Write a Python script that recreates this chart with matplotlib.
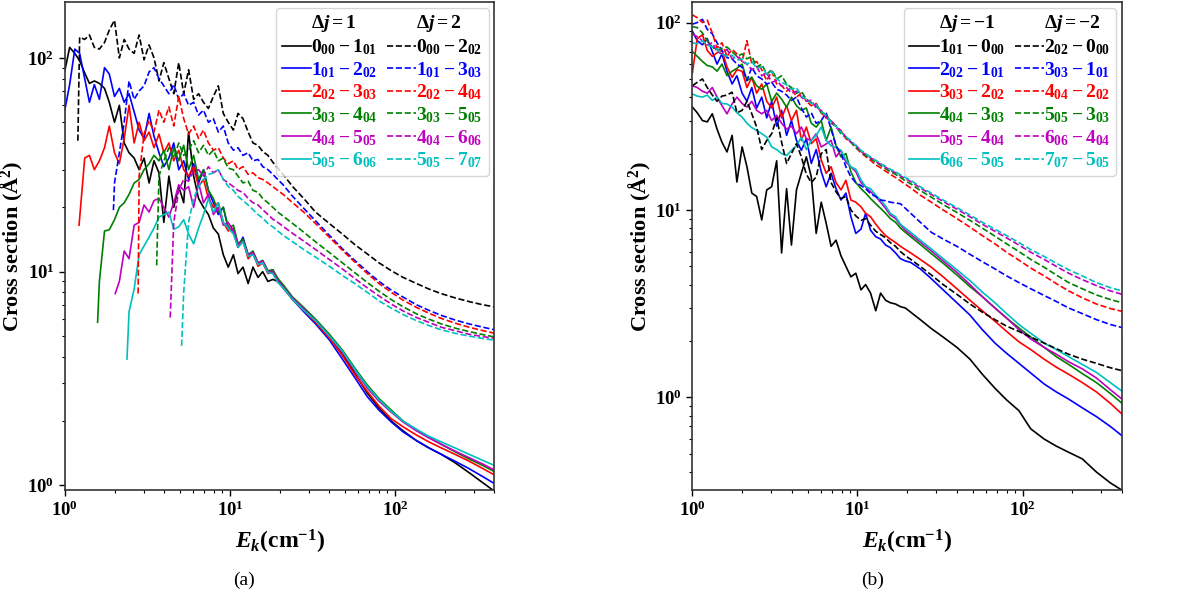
import matplotlib
matplotlib.use("Agg")
import matplotlib.pyplot as plt
from matplotlib.lines import Line2D


# shared collision-energy grid (cm^-1)
E_GRID = [1.00, 1.07, 1.15, 1.23, 1.32, 1.41, 1.51, 1.62, 1.74, 1.86,
          2.00, 2.14, 2.29, 2.45, 2.63, 2.82, 3.02, 3.24, 3.47, 3.72,
          3.98, 4.27, 4.57, 4.90, 5.25, 5.62, 6.03, 6.46, 6.92, 7.41,
          7.94, 8.51, 9.12, 9.77, 10.5, 11.2, 12.0, 12.9, 13.8, 14.8,
          15.8, 17.0, 18.2, 19.5, 21.0, 24.0, 28.0, 33.0, 40.0, 48.0,
          57.0, 68.0, 80.0, 95.0, 112, 135, 160, 190, 230, 280,
          340, 400]

COLORS = ["k", "b", "r", "g", "m", "c"]

# ---- panel (a): excitation ----
A_HEADERS = [r"$\Delta j=1$", r"$\Delta j=2$"]
A_SOLID_LABELS = [r"$0_{00}-1_{01}$", r"$1_{01}-2_{02}$", r"$2_{02}-3_{03}$",
                  r"$3_{03}-4_{04}$", r"$4_{04}-5_{05}$", r"$5_{05}-6_{06}$"]
A_DASHED_LABELS = [r"$0_{00}-2_{02}$", r"$1_{01}-3_{03}$", r"$2_{02}-4_{04}$",
                   r"$3_{03}-5_{05}$", r"$4_{04}-6_{06}$", r"$5_{05}-7_{07}$"]
# threshold points (E, sigma) drawn before the grid values
A_SOLID_ONSET = [None, None, (1.22, 16.5), (1.58, 5.8), (2.02, 7.9), (2.38, 3.9)]
A_DASHED_ONSET = [(1.20, 41), (1.97, 19.4), (2.78, 7.9), (3.60, 10.7), (4.35, 6.1), (5.10, 4.5)]

# values cover the last len(list) points of E_GRID
A_00_01 = [87, 112, 105, 97, 85, 76, 78, 76, 72, 62,
           50, 60, 40, 36, 34, 30, 34, 26, 33, 29,
           17, 28, 20, 25, 21, 45, 28, 22, 20, 18.5,
           16, 15, 12, 10.5, 12, 9.8, 10.5, 8.8, 10.5, 9.4,
           10, 9.0, 9.2, 9.0, 8.4, 7.4, 6.6, 5.9, 5.0, 4.15,
           3.35, 2.7, 2.3, 2.0, 1.8, 1.62, 1.5, 1.4, 1.28, 1.15,
           1.03, 0.94]
A_01_02 = [57, 75, 110, 105, 80, 62, 75, 64, 90, 84,
           66, 72, 62, 68, 56, 46, 42, 55, 43, 36,
           31, 34, 40, 30, 33, 27, 32, 26, 30, 24,
           21, 18.5, 20, 16, 15.5, 13, 14.5, 12, 12.3, 10.8,
           11.2, 10, 10.2, 9.2, 8.6, 7.4, 6.5, 5.7, 4.8, 3.9,
           3.2, 2.6, 2.25, 1.98, 1.78, 1.62, 1.5, 1.4, 1.3, 1.2,
           1.1, 1.02]
A_02_03 = [34, 35, 30, 33, 38, 48,
           36, 32, 42, 60, 40, 50, 41, 45, 38, 44,
           36, 40, 33, 37, 30, 28, 31, 25, 27, 22,
           20, 21, 17, 15.5, 16, 13, 14, 11.5, 12.2, 10.6,
           11, 9.8, 9.9, 9.0, 8.5, 7.4, 6.6, 5.8, 4.9, 4.05,
           3.3, 2.75, 2.35, 2.05, 1.88, 1.72, 1.6, 1.5, 1.4, 1.3,
           1.2, 1.12]
A_03_04 = [9, 15.5, 15.7,
           17.5, 20, 21, 23, 26, 27, 30, 32, 35, 33,
           37, 30, 38, 33, 39, 30, 35, 27, 30, 24,
           22, 19, 20, 16, 16.5, 13.5, 14.2, 12, 12.5, 11,
           11.3, 10.1, 10.2, 9.3, 8.7, 7.6, 6.8, 6.0, 5.1, 4.3,
           3.55, 2.95, 2.55, 2.25, 2.0, 1.82, 1.68, 1.56, 1.44, 1.33,
           1.24, 1.16]
A_04_05 = [9, 12.5, 11.5, 16.5, 17, 20.5, 19, 21.5, 22,
           20, 18, 21, 25.5, 24, 25, 20, 26, 21, 23,
           18.5, 20, 16.5, 17, 15.5, 13.5, 13.8, 12, 12.3, 11,
           11.2, 10, 10, 9.1, 8.5, 7.5, 6.7, 5.9, 5.0, 4.2,
           3.45, 2.85, 2.48, 2.2, 1.98, 1.8, 1.67, 1.56, 1.45, 1.35,
           1.26, 1.18]
A_05_06 = [6.5, 8.3, 12, 13.2, 14.5, 16, 18,
           18.5, 19, 15.8, 16.2, 17.5, 15, 13.5, 16, 18.5, 22,
           19, 21, 17, 16, 15, 13, 13.8, 11.8, 12, 10.8,
           11, 9.9, 9.8, 8.9, 8.4, 7.4, 6.6, 5.9, 5.0, 4.25,
           3.5, 2.9, 2.52, 2.22, 2.0, 1.83, 1.7, 1.6, 1.5, 1.4,
           1.31, 1.24]

A_00_02 = [125, 122, 128, 112, 110, 118, 135,
           150, 100, 122, 110, 105, 128, 98, 115, 100, 78,
           95, 80, 68, 95, 68, 88, 64, 68, 62, 58,
           66, 74, 55, 50, 46, 55, 52, 45, 40, 39,
           36.5, 35, 32.5, 30.5, 28.5, 25, 22, 19, 16.8, 15.0,
           13.4, 12.1, 11.0, 10.1, 9.4, 8.8, 8.3, 7.9, 7.55, 7.25,
           7.0, 6.85]
A_01_03 = [26, 36, 50, 78, 64, 70, 74, 86, 90, 80,
           74, 68, 75, 64, 68, 60, 62, 54, 57, 50,
           52, 45, 48, 40, 37, 38, 35, 36, 33, 33.5,
           31, 30, 28.5, 27, 25.5, 22.5, 19.8, 17.3, 14.8, 12.8,
           11.3, 10.0, 9.0, 8.2, 7.6, 7.0, 6.6, 6.25, 5.95, 5.7,
           5.5, 5.35]
A_02_04 = [28, 44, 51, 45, 57,
           50, 59, 48, 66, 52, 44, 48, 42, 46, 40,
           37, 38, 34, 32, 33, 30, 31, 28.5, 29, 27.5,
           27, 26, 25, 24, 23, 21, 19, 16.8, 14.5, 12.6,
           11.1, 9.8, 8.8, 8.0, 7.35, 6.8, 6.4, 6.05, 5.75, 5.5,
           5.3, 5.15]
A_03_05 = [28,
           33, 38, 34, 40, 35, 37, 41, 36, 39, 35,
           37, 33, 34, 30.5, 30, 28, 26, 26.5, 24, 23.5,
           22, 21, 20, 19, 18.2, 16.8, 15.3, 13.8, 12.3, 11.0,
           9.9, 8.9, 8.1, 7.4, 6.85, 6.35, 6.0, 5.7, 5.45, 5.25,
           5.08, 4.95]
A_04_06 = [17, 24, 27, 26.5, 29.5, 30, 28, 31,
           29, 30, 27, 26, 25, 24, 23.5, 22, 21, 20.5,
           19.5, 18.5, 17.6, 17, 16.3, 15.1, 13.9, 12.7, 11.4, 10.3,
           9.3, 8.4, 7.7, 7.05, 6.55, 6.1, 5.8, 5.5, 5.3, 5.1,
           4.97, 4.88]
A_05_07 = [8, 17, 22, 25, 27, 28.5,
           29, 30, 27, 25, 24, 22.5, 21.5, 20.5, 19.5, 18.5,
           17.8, 16.8, 16.2, 15.5, 14.8, 13.8, 12.7, 11.7, 10.6, 9.6,
           8.8, 8.0, 7.3, 6.75, 6.3, 5.9, 5.6, 5.35, 5.15, 5.0,
           4.87, 4.78]

# ---- panel (b): de-excitation ----
B_HEADERS = [r"$\Delta j=-1$", r"$\Delta j=-2$"]
B_SOLID_LABELS = [r"$1_{01}-0_{00}$", r"$2_{02}-1_{01}$", r"$3_{03}-2_{02}$",
                  r"$4_{04}-3_{03}$", r"$5_{05}-4_{04}$", r"$6_{06}-5_{05}$"]
B_DASHED_LABELS = [r"$2_{02}-0_{00}$", r"$3_{03}-1_{01}$", r"$4_{04}-2_{02}$",
                   r"$5_{05}-3_{03}$", r"$6_{06}-4_{04}$", r"$7_{07}-5_{05}$"]

B_01_00 = [35.4, 33, 30, 29.5, 32.6, 27, 23, 20.4, 25, 14.1,
           21.7, 17, 12.3, 11.8, 8.85, 12.8, 13.3, 18.3, 5.9, 13,
           6.5, 12.8, 15.7, 19.2, 15, 7.5, 11, 8.5, 6.4, 6.9,
           5.7, 5.0, 4.4, 4.6, 3.75, 4.0, 3.6, 2.9, 3.6, 3.3,
           3.2, 3.15, 3.05, 3.0, 2.85, 2.6, 2.33, 2.1, 1.85, 1.6,
           1.33, 1.12, 0.97, 0.85, 0.68, 0.6, 0.55, 0.51, 0.47, 0.4,
           0.35, 0.32]
B_02_01 = [90, 80, 76, 82, 70, 60, 68, 55, 47, 52,
           42, 38, 45, 35, 40, 31, 38, 28, 34, 25,
           30, 23.5, 20.8, 24, 17.7, 21, 16, 13.3, 15.7, 13,
           11.3, 12.3, 9.2, 7.5, 7.9, 9.6, 7.8, 7.2, 7.0, 6.5,
           6.3, 5.9, 5.5, 5.35, 5.25, 4.85, 4.3, 3.75, 3.2, 2.75,
           2.3, 1.95, 1.72, 1.52, 1.35, 1.18, 1.07, 0.98, 0.88, 0.79,
           0.7, 0.625]
B_03_02 = [54, 82, 86, 71, 66, 69, 71, 58, 51, 56,
           55, 45, 51, 42, 47, 38, 35, 40, 31, 36,
           30, 34, 23.5, 27.7, 22.6, 24, 18.5, 15.7, 17, 14,
           12.8, 14.4, 11.3, 11, 10.4, 9.6, 9.2, 8.4, 7.8, 7.3,
           7.0, 6.7, 6.4, 6.15, 5.9, 5.45, 4.95, 4.4, 3.8, 3.3,
           2.9, 2.55, 2.25, 1.98, 1.8, 1.6, 1.45, 1.33, 1.2, 1.07,
           0.93, 0.815]
B_04_03 = [70, 66, 62, 59, 58, 55, 60, 52, 55, 57,
           60, 49, 51, 46, 44, 47, 38, 42, 39, 35.4,
           40, 36, 34, 35, 29, 27.7, 30, 23.5, 27.7, 22,
           19.2, 20, 16, 14, 13, 12.3, 11.5, 10.8, 10.2, 9.6,
           9.0, 8.6, 8.0, 7.6, 7.2, 6.55, 5.85, 5.2, 4.5, 3.9,
           3.45, 3.0, 2.65, 2.35, 2.1, 1.85, 1.65, 1.5, 1.34, 1.2,
           1.05, 0.93]
B_05_04 = [46, 45, 43, 42, 45, 40, 36, 32.6, 36.8, 40,
           37, 35.4, 38, 34, 32.6, 34, 30, 32, 29, 27,
           28, 25.5, 27.7, 24, 23.5, 25.5, 21.7, 22.5, 23.5, 19.2,
           20.8, 18, 17, 16, 14, 13.3, 12.5, 11.8, 11, 10.2,
           9.4, 9.0, 8.3, 7.8, 7.4, 6.75, 6.05, 5.35, 4.65, 4.0,
           3.45, 3.0, 2.65, 2.3, 2.05, 1.85, 1.7, 1.55, 1.42, 1.27,
           1.1, 0.98]
B_06_05 = [41.6, 40.5, 40, 41, 38.4, 40, 37, 36.8, 35.4, 33,
           31.3, 29, 27.5, 26.6, 25.5, 24.5, 21.7, 21, 20, 19.5,
           20.8, 22, 24.5, 21, 23.5, 25, 27.7, 23.5, 22, 21.5,
           20.8, 18.5, 17, 16.5, 14.5, 13.3, 13, 12, 11.3, 10.5,
           9.6, 9.2, 8.4, 8.0, 7.6, 6.9, 6.2, 5.5, 4.8, 4.2,
           3.65, 3.2, 2.8, 2.45, 2.2, 1.95, 1.8, 1.65, 1.5, 1.36,
           1.2, 1.08]

B_02_00 = [46, 48, 50, 45, 41, 38, 40.5, 41, 42.5, 33,
           34, 38, 32.6, 27.7, 21, 23.5, 25.5, 31, 23, 17.7,
           20, 22.6, 19.2, 15.5, 14, 15, 20, 21, 14, 12.5,
           11.5, 11.8, 10, 9.3, 8.8, 9.0, 8.3, 7.7, 7.4, 7.1,
           6.7, 6.4, 6.0, 5.7, 5.45, 5.0, 4.5, 4.0, 3.55, 3.15,
           2.85, 2.6, 2.4, 2.25, 2.1, 1.95, 1.82, 1.7, 1.6, 1.52,
           1.44, 1.39]
B_03_01 = [98, 100, 104, 92, 87, 78, 71, 65, 64, 60,
           57.7, 49, 57.7, 52, 50, 47, 48, 44, 43, 41,
           38.4, 40, 35, 31.3, 33, 29, 30, 33, 27, 22,
           20, 17, 15, 14, 13.5, 13, 12.2, 11.8, 11.3, 11.2,
           11.0, 10.9, 10.8, 10.2, 9.6, 8.6, 7.6, 7.0, 6.4, 5.8,
           5.3, 4.85, 4.45, 4.1, 3.8, 3.5, 3.25, 3.0, 2.8, 2.6,
           2.45, 2.36]
B_04_02 = [110, 106, 100, 103, 88, 73, 78, 66, 72, 68,
           62, 80, 60, 62, 56, 49, 55, 47, 46, 43,
           45, 40, 42, 38, 36, 37, 33, 31, 30, 28,
           26.5, 24, 23, 21.5, 20.2, 19.3, 18.4, 17.4, 16.8, 16.1,
           15.5, 14.9, 14.3, 13.7, 13.1, 12.0, 11.0, 10.0, 9.0, 8.1,
           7.3, 6.6, 5.95, 5.4, 4.9, 4.45, 4.05, 3.7, 3.4, 3.15,
           2.98, 2.88]
B_05_03 = [95, 94, 88, 80, 74, 71, 73, 74, 70, 66,
           68, 64, 66, 58, 60, 53, 56, 50, 52, 47,
           45, 42, 43, 39, 37.5, 36, 33, 32.5, 29, 28,
           25.5, 24.5, 23, 21.5, 20.5, 19.5, 18.8, 18, 17.3, 16.6,
           16, 15.5, 14.9, 14.3, 13.8, 12.7, 11.7, 10.7, 9.7, 8.8,
           8.0, 7.25, 6.6, 6.0, 5.45, 4.95, 4.5, 4.1, 3.8, 3.52,
           3.33, 3.2]
B_06_04 = [87, 84, 80, 76, 78, 70, 68, 72, 64, 66,
           62, 60, 56, 58, 52, 54, 48, 49, 46, 45,
           42, 43, 40, 38, 38.5, 35, 34, 31, 30, 27.5,
           26.5, 24.5, 23, 22.2, 20.5, 19.8, 19, 18.2, 17.5, 16.9,
           16.3, 15.8, 15.2, 14.7, 14.2, 13.1, 12.1, 11.1, 10.1, 9.2,
           8.4, 7.7, 7.1, 6.5, 5.95, 5.45, 5.0, 4.6, 4.25, 3.95,
           3.7, 3.55]
B_07_05 = [78, 77, 80, 76, 74, 72, 68, 66, 67, 63,
           64, 60, 62, 57, 58, 53, 55, 50, 48, 46.5,
           44, 45, 40.5, 39, 37, 36.5, 33.5, 32, 29.5, 28,
           26, 24.5, 23.5, 22, 20.8, 20, 19.2, 18.4, 17.7, 17.1,
           16.5, 16, 15.4, 14.9, 14.4, 13.3, 12.3, 11.3, 10.3, 9.4,
           8.6, 7.9, 7.3, 6.7, 6.15, 5.65, 5.2, 4.8, 4.45, 4.1,
           3.85, 3.7]

LW = 1.2


def main() -> None:
    plt.rcParams.update({
        "font.family": "Liberation Serif",
        "font.weight": "bold",
        "axes.labelweight": "bold",
        "mathtext.fontset": "custom",
        "mathtext.rm": "Liberation Serif:bold",
        "mathtext.it": "Liberation Serif:italic:bold",
        "mathtext.bf": "Liberation Serif:bold",
    })
    fig = plt.figure(figsize=(12, 6), dpi=100)
    ax_a = fig.add_axes([0.054, 0.183, 0.358, 0.814])
    ax_b = fig.add_axes([0.577, 0.183, 0.358, 0.814])

    draw_panel(ax_a,
               [A_00_01, A_01_02, A_02_03, A_03_04, A_04_05, A_05_06],
               [A_00_02, A_01_03, A_02_04, A_03_05, A_04_06, A_05_07],
               A_SOLID_ONSET, A_DASHED_ONSET,
               A_SOLID_LABELS, A_DASHED_LABELS, A_HEADERS, (0.95, 183))
    draw_panel(ax_b,
               [B_01_00, B_02_01, B_03_02, B_04_03, B_05_04, B_06_05],
               [B_02_00, B_03_01, B_04_02, B_05_03, B_06_04, B_07_05],
               [None] * 6, [None] * 6,
               B_SOLID_LABELS, B_DASHED_LABELS, B_HEADERS, (0.32, 129))

    fig.text(0.203, 0.033, "(a)", ha="center", va="center", fontsize=14, fontweight="normal")
    fig.text(0.727, 0.033, "(b)", ha="center", va="center", fontsize=14, fontweight="normal")
    fig.savefig("out.png", dpi=100)
    plt.close(fig)


def curve(values, onset):
    xs = E_GRID[len(E_GRID) - len(values):]
    ys = list(values)
    if onset is not None:
        xs = [onset[0]] + xs
        ys = [onset[1]] + ys
    return xs, ys


def draw_panel(ax, solids, dashed, solid_onsets, dashed_onsets,
               solid_labels, dashed_labels, headers, ylim) -> None:
    solid_lines = []
    dashed_lines = []
    for values, onset, color in zip(solids, solid_onsets, COLORS):
        line, = ax.plot(*curve(values, onset), color=color, lw=LW, ls="-")
        solid_lines.append(line)
    for values, onset, color in zip(dashed, dashed_onsets, COLORS):
        line, = ax.plot(*curve(values, onset), color=color, lw=LW, ls="--")
        dashed_lines.append(line)

    ax.set_xscale("log")
    ax.set_yscale("log")
    ax.set_xlim(1, 400)
    ax.set_ylim(*ylim)
    ax.set_xlabel(r"$E_k$(cm$^{-1}$)", fontsize=17, labelpad=6)
    ax.set_ylabel(r"Cross section (Å$^2$)", fontsize=16)
    ax.yaxis.set_label_coords(-0.092, 0.5)
    ax.tick_params(which="major", labelsize=13.5, length=4, width=1)
    ax.tick_params(which="minor", length=2.5, width=0.8)
    for spine in ax.spines.values():
        spine.set_linewidth(1.2)
        spine.set_color("#333333")

    blank = Line2D([], [], color="none")
    handles = [blank] + solid_lines + [blank] + dashed_lines
    labels = [headers[0]] + solid_labels + [headers[1]] + dashed_labels
    leg = ax.legend(handles, labels, ncol=2, loc="upper right", fontsize=14,
                    handlelength=1.5, handletextpad=0.0, columnspacing=0.5,
                    labelspacing=0.15, borderpad=0.3, borderaxespad=0.3)
    for text, color in zip(leg.get_texts(), ["k"] + COLORS + ["k"] + COLORS):
        text.set_color(color)


if __name__ == "__main__":
    main()
